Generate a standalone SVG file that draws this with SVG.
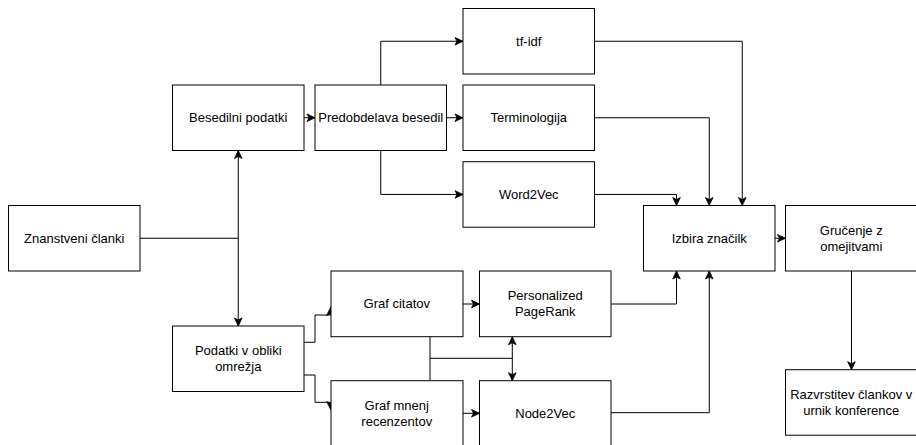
<svg xmlns="http://www.w3.org/2000/svg" width="916" height="445" viewBox="0 0 916 445">
<style>
.box{fill:#fff;stroke:#000;stroke-width:1}
.t{font-family:"Liberation Sans",Arial,Helvetica,sans-serif;font-size:13px;fill:#000;text-anchor:middle}
.c{fill:none;stroke:#000;stroke-width:1}
.a{marker-end:url(#arr)}
.b{marker-start:url(#arrs);marker-end:url(#arr)}
</style>
<defs>
<marker id="arr" markerUnits="userSpaceOnUse" markerWidth="10" markerHeight="10" viewBox="0 0 10 10" refX="9" refY="5" orient="auto">
<path d="M1,1.2 L9,5 L1,8.8 L3,5 Z" fill="#000" stroke="#000" stroke-width="0.8"/>
</marker>
<marker id="arrs" markerUnits="userSpaceOnUse" markerWidth="10" markerHeight="10" viewBox="0 0 10 10" refX="1" refY="5" orient="auto">
<path d="M9,1.2 L1,5 L9,8.8 L7,5 Z" fill="#000" stroke="#000" stroke-width="0.8"/>
</marker>
</defs>
<g id="connectors">
<path class="c" d="M140,238.25 H238.25"/>
<path class="c a" d="M238.25,238.25 V150.5"/>
<path class="c a" d="M238.25,238.25 V326"/>
<path class="c a" d="M304,117.75 H315"/>
<path class="c a" d="M380.75,85 V41.25 H463"/>
<path class="c a" d="M446.5,117.75 H463"/>
<path class="c a" d="M380.75,150.5 V194.45 H463"/>
<path class="c a" d="M594.5,41.25 H742.25 V205.5"/>
<path class="c a" d="M594.5,117.75 H709.25 V205.5"/>
<path class="c a" d="M594.5,194.45 H676.5 V205.5"/>
<path class="c a" d="M775,238.25 H785.5"/>
<path class="c a" d="M851.5,271 V369.7"/>
<path class="c a" d="M304,342.3 H315 V315 H330.5 V307.5"/>
<path class="c a" d="M304,375 H315 V402.3 H330.5 V409.5"/>
<path class="c a" d="M463,304 H479.5"/>
<path class="c a" d="M463,413.3 H479.5"/>
<path class="c" d="M430,336.7 V380.7"/>
<path class="c" d="M430,358.3 H512.3"/>
<path class="c b" d="M512.3,336.7 V380.7"/>
<path class="c a" d="M611,304 H676.5 V271"/>
<path class="c a" d="M611,412.7 H709.25 V271"/>
</g>
<g id="znanstveni">
<rect class="box" x="8.5" y="205.5" width="131.5" height="65.5"/>
<text class="t" x="74.25" y="242.75">Znanstveni članki</text>
</g>
<g id="besedilni">
<rect class="box" x="172.5" y="85" width="131.5" height="65.5"/>
<text class="t" x="238.25" y="122.25">Besedilni podatki</text>
</g>
<g id="predobdelava">
<rect class="box" x="315" y="85" width="131.5" height="65.5"/>
<text class="t" x="380.75" y="122.25">Predobdelava besedil</text>
</g>
<g id="tfidf">
<rect class="box" x="463" y="8.5" width="131.5" height="65.5"/>
<text class="t" x="528.75" y="45.75">tf-idf</text>
</g>
<g id="terminologija">
<rect class="box" x="463" y="85" width="131.5" height="65.5"/>
<text class="t" x="528.75" y="122.25">Terminologija</text>
</g>
<g id="word2vec">
<rect class="box" x="463" y="161.7" width="131.5" height="65.5"/>
<text class="t" x="528.75" y="198.95">Word2Vec</text>
</g>
<g id="podatki">
<rect class="box" x="172.5" y="326" width="131.5" height="65.5"/>
<text class="t" x="238.25" y="355.25">Podatki v obliki</text>
<text class="t" x="238.25" y="371.25">omrežja</text>
</g>
<g id="grafcitatov">
<rect class="box" x="331" y="271" width="132" height="65.7"/>
<text class="t" x="396.75" y="308.25">Graf citatov</text>
</g>
<g id="grafmnenj">
<rect class="box" x="331" y="380.7" width="132" height="65.5"/>
<text class="t" x="396.75" y="409.95">Graf mnenj</text>
<text class="t" x="396.75" y="425.95">recenzentov</text>
</g>
<g id="ppr">
<rect class="box" x="479.5" y="271" width="131.5" height="65.7"/>
<text class="t" x="545.25" y="300.25">Personalized</text>
<text class="t" x="545.25" y="316.25">PageRank</text>
</g>
<g id="node2vec">
<rect class="box" x="479.5" y="380.7" width="131.5" height="65.5"/>
<text class="t" x="545.25" y="417.95">Node2Vec</text>
</g>
<g id="izbira">
<rect class="box" x="643.5" y="205.5" width="131.5" height="65.5"/>
<text class="t" x="709.25" y="242.75">Izbira značilk</text>
</g>
<g id="grucenje">
<rect class="box" x="785.5" y="205.5" width="131.5" height="65.5"/>
<text class="t" x="851.25" y="234.75">Gručenje z</text>
<text class="t" x="851.25" y="250.75">omejitvami</text>
</g>
<g id="razvrstitev">
<rect class="box" x="785.5" y="369.7" width="131.5" height="65.5"/>
<text class="t" x="851.25" y="398.95">Razvrstitev člankov v</text>
<text class="t" x="851.25" y="414.95">urnik konference</text>
</g>
</svg>
